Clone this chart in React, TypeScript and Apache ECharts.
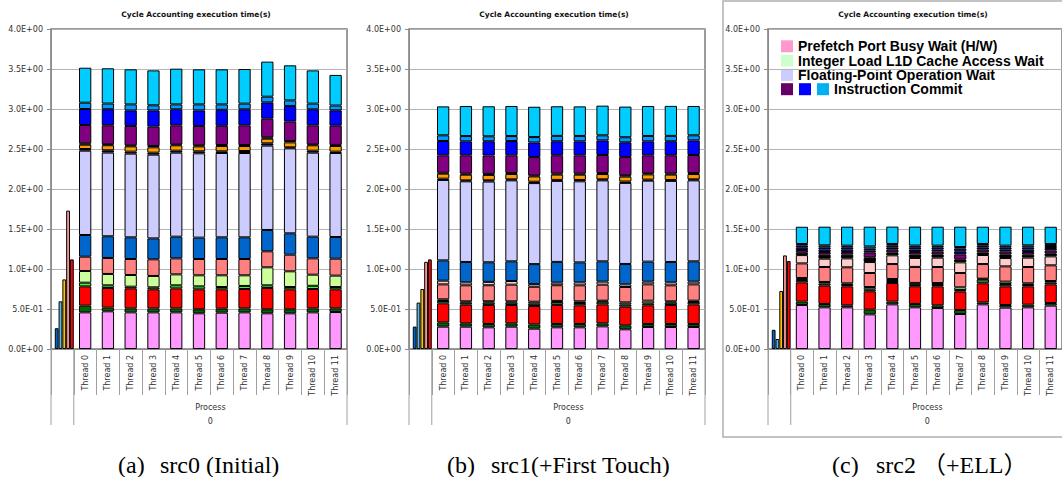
import React, { useEffect, useRef } from 'react';
import * as echarts from 'echarts';

// ---------- categories ----------
const categories = ['', 'Thread 0', 'Thread 1', 'Thread 2', 'Thread 3', 'Thread 4', 'Thread 5', 'Thread 6', 'Thread 7', 'Thread 8', 'Thread 9', 'Thread 10', 'Thread 11'];
const groupLabel = 'Process';
const groupValue = '0';
const chartTitle = 'Cycle Accounting execution time(s)';
const captionsLeft = ['(a)', '(b)', '(c)'];
const captionsRight = ['src0 (Initial)', 'src1(+First Touch)', 'src2 \uFF08+ELL\uFF09'];

// ---------- process-level bars (left of each panel) ----------
const processColors = ['#0066CC', '#55BBEE', '#FFC000', '#FF9999', '#FF0000'];
const src0Process = [0.26, 0.596, 0.87, 1.73, 1.12];
const src1Process = [0.28, 0.58, 0.75, 1.09, 1.12];
const src2Process = [0.24, 0.125, 0.725, 1.17, 1.10];

// ---------- stacked layers (bottom -> top) ----------
const layerNames = ['pink', 'dkgreen', 'red', 'olive', 'bgreen', 'yg', 'salmon', 'lpink', 'medblue', 'lavender', 'navy', 'orange', 'black', 'purple', 'navy2', 'blue', 'lb', 'cyan'];
const layerColors = ['#FF99FF', '#006600', '#FF0000', '#3C6E2E', '#33FF33', '#CCFF99', '#FF8080', '#FFCCCC', '#0066CC', '#CCCCFF', '#000066', '#FF9900', '#000000', '#800080', '#000080', '#0000FF', '#0099FF', '#00CCFF'];

// src0 (Initial)
const src0Pink = [0.458, 0.471, 0.458, 0.458, 0.458, 0.446, 0.454, 0.458, 0.446, 0.446, 0.458, 0.462];
const src0DkGreen = [0.084, 0.046, 0.050, 0.050, 0.050, 0.050, 0.050, 0.050, 0.050, 0.050, 0.050, 0.046];
const src0Red = [0.241, 0.246, 0.250, 0.238, 0.250, 0.250, 0.242, 0.242, 0.267, 0.250, 0.242, 0.238];
const src0BGreen = [0.046, 0.033, 0.021, 0.025, 0.038, 0.037, 0.029, 0.038, 0.033, 0.029, 0.040, 0.029];
const src0YG = [0.146, 0.142, 0.146, 0.142, 0.137, 0.138, 0.146, 0.133, 0.225, 0.196, 0.139, 0.142];
const src0Salmon = [0.179, 0.200, 0.200, 0.208, 0.200, 0.204, 0.204, 0.204, 0.200, 0.208, 0.204, 0.212];
const src0MedBlue = [0.271, 0.271, 0.271, 0.262, 0.271, 0.267, 0.271, 0.271, 0.267, 0.267, 0.271, 0.271];
const src0Lavender = [1.054, 1.046, 1.046, 1.046, 1.050, 1.054, 1.054, 1.054, 1.054, 1.062, 1.050, 1.050];
const src0Navy = [0.021, 0.029, 0.025, 0.025, 0.025, 0.025, 0.021, 0.025, 0.029, 0.013, 0.025, 0.017];
const src0Orange = [0.054, 0.063, 0.066, 0.067, 0.067, 0.062, 0.067, 0.062, 0.058, 0.062, 0.067, 0.071];
const src0Black = [0.017, 0.012, 0.013, 0.017, 0.012, 0.013, 0.012, 0.013, 0.017, 0.017, 0.012, 0.013];
const src0Purple = [0.229, 0.238, 0.242, 0.241, 0.238, 0.242, 0.240, 0.246, 0.233, 0.242, 0.238, 0.240];
const src0Blue = [0.200, 0.200, 0.195, 0.204, 0.200, 0.195, 0.200, 0.200, 0.204, 0.196, 0.200, 0.193];
const src0LB = [0.079, 0.071, 0.075, 0.063, 0.062, 0.075, 0.068, 0.071, 0.071, 0.070, 0.071, 0.059];
const src0Cyan = [0.437, 0.441, 0.438, 0.437, 0.446, 0.438, 0.438, 0.433, 0.438, 0.438, 0.416, 0.383];

// src1 (+First Touch)
const src1Pink = [0.279, 0.279, 0.271, 0.279, 0.254, 0.271, 0.271, 0.283, 0.246, 0.275, 0.275, 0.275];
const src1DkGreen = [0.054, 0.042, 0.042, 0.042, 0.054, 0.042, 0.042, 0.038, 0.050, 0.037, 0.037, 0.037];
const src1Red = [0.238, 0.233, 0.238, 0.229, 0.229, 0.238, 0.233, 0.237, 0.233, 0.234, 0.238, 0.246];
const src1Olive = [null, 0.025, 0.029, 0.029, 0.029, 0.037, 0.029, 0.034, 0.029, 0.025, 0.029, 0.030];
const src1BGreen = [0.029, null, null, null, null, null, null, null, null, null, null, null];
const src1YG = [0.021, 0.017, 0.017, 0.017, 0.025, 0.013, 0.021, 0.012, 0.025, 0.033, 0.017, 0.016];
const src1Salmon = [0.187, 0.200, 0.200, 0.208, 0.187, 0.196, 0.200, 0.200, 0.192, 0.204, 0.200, 0.204];
const src1LPink = [0.046, 0.037, 0.042, 0.046, 0.033, 0.033, 0.037, 0.038, 0.033, 0.034, 0.037, 0.034];
const src1MedBlue = [0.254, 0.255, 0.245, 0.246, 0.250, 0.259, 0.250, 0.254, 0.255, 0.250, 0.255, 0.254];
const src1Lavender = [1.005, 1.008, 1.009, 1.012, 1.013, 1.012, 1.013, 1.012, 1.013, 1.012, 1.013, 1.012];
const src1Navy = [0.016, 0.012, 0.016, 0.013, 0.017, 0.013, 0.017, 0.013, 0.017, 0.013, 0.012, 0.013];
const src1Orange = [0.063, 0.071, 0.067, 0.067, 0.066, 0.066, 0.066, 0.066, 0.062, 0.066, 0.067, 0.066];
const src1Black = [0.012, 0.013, 0.013, 0.012, 0.013, 0.013, 0.013, 0.013, 0.017, 0.013, 0.013, 0.013];
const src1Purple = [0.217, 0.229, 0.229, 0.221, 0.229, 0.229, 0.229, 0.225, 0.229, 0.225, 0.229, 0.225];
const src1Blue = [0.179, 0.175, 0.179, 0.179, 0.183, 0.175, 0.175, 0.183, 0.183, 0.175, 0.175, 0.183];
const src1LB = [0.071, 0.066, 0.062, 0.062, 0.067, 0.067, 0.067, 0.063, 0.063, 0.067, 0.067, 0.063];
const src1Cyan = [0.362, 0.375, 0.375, 0.375, 0.379, 0.370, 0.370, 0.371, 0.383, 0.375, 0.375, 0.367];

// src2 (+ELL)
const src2Pink = [0.550, 0.521, 0.521, 0.433, 0.558, 0.521, 0.512, 0.437, 0.558, 0.517, 0.521, 0.542];
const src2DkGreen = [0.042, 0.042, 0.025, 0.059, 0.034, 0.042, 0.034, 0.050, 0.025, 0.033, 0.033, 0.033];
const src2Red = [0.241, 0.229, 0.237, 0.229, 0.233, 0.221, 0.237, 0.230, 0.238, 0.233, 0.229, 0.233];
const src2Olive = [0.029, 0.025, 0.017, 0.025, 0.025, 0.017, 0.017, 0.021, 0.050, 0.029, 0.017, 0.025];
const src2YG = [0.025, 0.021, 0.021, 0.029, 0.025, 0.025, 0.025, 0.033, 0.008, 0.030, 0.021, 0.017];
const src2Salmon = [0.183, 0.187, 0.200, 0.175, 0.187, 0.200, 0.200, 0.179, 0.183, 0.191, 0.204, 0.196];
const src2LPink = [0.104, 0.104, 0.112, 0.137, 0.109, 0.112, 0.117, 0.133, 0.113, 0.104, 0.117, 0.112];
const src2Black = [0.029, 0.050, 0.046, 0.059, 0.037, 0.042, 0.041, 0.038, 0.033, 0.046, 0.037, 0.038];
const src2Purple = [0.034, 0.033, 0.033, 0.058, 0.034, 0.033, 0.034, 0.062, 0.034, 0.034, 0.033, 0.037];
const src2Navy2 = [0.029, 0.030, 0.030, 0.025, 0.029, 0.030, 0.025, 0.038, 0.029, 0.025, 0.030, 0.029];
const src2Blue = [0.029, 0.029, 0.029, 0.025, 0.025, 0.029, 0.029, 0.033, 0.025, 0.029, 0.029, 0.025];
const src2LB = [0.017, 0.025, 0.021, 0.029, 0.017, 0.021, 0.021, 0.021, 0.017, 0.021, 0.025, 0.025];
const src2Cyan = [0.216, 0.233, 0.237, 0.246, 0.217, 0.237, 0.237, 0.254, 0.216, 0.237, 0.233, 0.216];

// layer order matches layerNames; null = layer absent in that panel
const src0Layers = [src0Pink, src0DkGreen, src0Red, null, src0BGreen, src0YG, src0Salmon, null, src0MedBlue, src0Lavender, src0Navy, src0Orange, src0Black, src0Purple, null, src0Blue, src0LB, src0Cyan];
const src1Layers = [src1Pink, src1DkGreen, src1Red, src1Olive, src1BGreen, src1YG, src1Salmon, src1LPink, src1MedBlue, src1Lavender, src1Navy, src1Orange, src1Black, src1Purple, null, src1Blue, src1LB, src1Cyan];
const src2Layers = [src2Pink, src2DkGreen, src2Red, src2Olive, null, src2YG, src2Salmon, src2LPink, null, null, null, null, src2Black, src2Purple, src2Navy2, src2Blue, src2LB, src2Cyan];

// legend (panel c)
const legendRows = ['Prefetch Port Busy Wait (H/W)', 'Integer Load L1D Cache Access Wait', 'Floating-Point Operation Wait', 'Instruction Commit'];
const legendRowColors = [['#FF99CC'], ['#CCFFCC'], ['#CCCCFF'], ['#660066', '#0000FF', '#00B0F0']];

// ---------- layout ----------
const GRID_TOP = 29;
const GRID_H = 320;
const GRID_W = 296;
const PANEL_LEFTS = [51, 409, 768];
const SLOTS = 78; // 6 sub-slots per category for the process bars

const fmtExp = (v: number) => {
  const s = Number(v).toExponential(1);
  const [m, e] = s.split('e');
  const sign = e[0] === '-' ? '-' : '+';
  const d = e.replace(/[+-]/, '');
  return m + 'E' + sign + d.padStart(2, '0');
};

const FONT = 'DejaVu Sans, Verdana, sans-serif';

function buildOption() {
  const panels = [
    { layers: src0Layers, proc: src0Process },
    { layers: src1Layers, proc: src1Process },
    { layers: src2Layers, proc: src2Process },
  ];
  const grid: any[] = [];
  const xAxis: any[] = [];
  const yAxis: any[] = [];
  const series: any[] = [];
  const graphic: any[] = [];
  const slotNames = Array.from({ length: SLOTS }, (_, i) => 's' + i);
  const catW = GRID_W / categories.length;
  const bottom = GRID_TOP + GRID_H;

  // panel (c) frame
  graphic.push({
    type: 'rect', z: -10, silent: true,
    shape: { x: 723, y: 1, width: 360, height: 436 },
    style: { fill: 'none', stroke: '#b0b0b0', lineWidth: 1.5 },
  });

  panels.forEach((p, pi) => {
    const left = PANEL_LEFTS[pi];
    grid.push({ left, top: GRID_TOP, width: GRID_W, height: GRID_H, show: true, borderColor: '#7a7a7a', borderWidth: 1.5, backgroundColor: 'rgba(0,0,0,0)' });
    xAxis.push({
      type: 'category', gridIndex: pi, data: categories, position: 'bottom',
      axisLine: { lineStyle: { color: '#8a8a8a', width: 1 } },
      axisTick: { show: true, interval: 0, length: 46, lineStyle: { color: '#a0a0a0' } },
      axisLabel: { interval: 0, rotate: 90, fontSize: 8, fontFamily: FONT, color: '#333', margin: 6 },
      splitLine: { show: false },
    });
    xAxis.push({ type: 'category', gridIndex: pi, data: slotNames, show: false });
    yAxis.push({
      type: 'value', gridIndex: pi, min: 0, max: 4, interval: 0.5,
      axisLine: { show: true, lineStyle: { color: '#8a8a8a' } },
      axisTick: { show: true, length: 4, lineStyle: { color: '#8a8a8a' } },
      axisLabel: { formatter: fmtExp, fontSize: 8, fontFamily: FONT, color: '#333', margin: 8 },
      splitLine: { show: true, lineStyle: { color: '#b4b4b4', width: 1 } },
    });

    p.layers.forEach((arr, li) => {
      if (!arr) return;
      series.push({
        type: 'bar', name: layerNames[li], xAxisIndex: pi * 2, yAxisIndex: pi, stack: 'p' + pi,
        data: [null, ...arr], barWidth: '54%',
        itemStyle: { color: layerColors[li], borderColor: '#000', borderWidth: 1 },
      });
    });
    series.push({
      type: 'bar', name: 'process', xAxisIndex: pi * 2 + 1, yAxisIndex: pi, barWidth: '100%',
      data: [null, ...p.proc.map((v, i) => ({ value: v, itemStyle: { color: processColors[i] } }))],
      itemStyle: { borderColor: '#000', borderWidth: 1 },
    });

    // title
    graphic.push({
      type: 'text', x: left + GRID_W / 2 - 3, y: 14, silent: true,
      style: { text: chartTitle, fontSize: 7.5, fontWeight: 'bold', fontFamily: FONT, fill: '#111', align: 'center', verticalAlign: 'middle' },
    });
    // long separators of the two-level category axis
    [left, left + catW, left + GRID_W].forEach((x) => {
      graphic.push({ type: 'line', silent: true, shape: { x1: x, y1: bottom, x2: x, y2: 425 }, style: { stroke: '#a0a0a0', lineWidth: 1 } });
    });
    const gx = (left + catW + left + GRID_W) / 2;
    graphic.push({ type: 'text', x: gx, y: 407, silent: true, style: { text: groupLabel, fontSize: 8, fontFamily: FONT, fill: '#333', align: 'center', verticalAlign: 'middle' } });
    graphic.push({ type: 'text', x: gx, y: 421, silent: true, style: { text: groupValue, fontSize: 8, fontFamily: FONT, fill: '#333', align: 'center', verticalAlign: 'middle' } });
  });

  // captions
  const capL = [118, 447, 832];
  const capR = [160, 491, 876];
  captionsLeft.forEach((t, i) => {
    graphic.push({ type: 'text', x: capL[i], y: 465, silent: true, style: { text: t, fontSize: 24, fontFamily: 'Liberation Serif, Times New Roman, serif', fill: '#000', align: 'left', verticalAlign: 'middle' } });
    graphic.push({ type: 'text', x: capR[i], y: 465, silent: true, style: { text: captionsRight[i], fontSize: 24, fontFamily: 'Liberation Serif, Times New Roman, Noto Sans CJK JP, serif', fill: '#000', align: 'left', verticalAlign: 'middle' } });
  });

  // legend (panel c)
  legendRows.forEach((t, r) => {
    const y = 46.3 + r * 14.3;
    const cols = legendRowColors[r];
    cols.forEach((c, k) => {
      graphic.push({ type: 'rect', silent: true, shape: { x: 781 + k * 18, y: y - 6, width: 12, height: 12 }, style: { fill: c } });
    });
    const tx = cols.length > 1 ? 834 : 798;
    graphic.push({ type: 'text', x: tx, y: y, silent: true, style: { text: t, fontSize: 14, fontWeight: 'bold', fontFamily: 'Liberation Sans, Arial, sans-serif', fill: '#000', align: 'left', verticalAlign: 'middle' } });
  });

  return { animation: false, backgroundColor: '#fff', grid, xAxis, yAxis, series, graphic };
}

export default function App() {
  const ref = useRef<HTMLDivElement>(null);
  useEffect(() => {
    if (!ref.current) return;
    const chart = echarts.init(ref.current, undefined, { renderer: 'svg' });
    chart.setOption(buildOption() as any);
    return () => chart.dispose();
  }, []);
  return <div ref={ref} style={{ position: 'absolute', left: 0, top: 0, width: 1062, height: 477 }} />;
}
